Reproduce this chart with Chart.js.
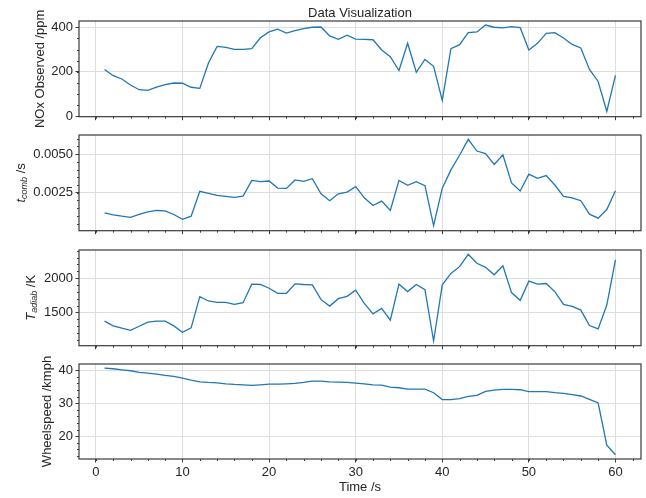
<!DOCTYPE html>
<html>
<head>
<meta charset="utf-8">
<script src="https://cdn.jsdelivr.net/npm/chart.js@4.4.1/dist/chart.umd.min.js"></script>
<style>
  body { margin: 0; background: #fff; }
  #wrap { position: relative; width: 646px; height: 498px; overflow: hidden; }
  #wrap canvas { position: absolute; left: 0; }
</style>
</head>
<body>
<div id="wrap"></div>
<script>
// data
const timeS = [1, 2, 3, 4, 5, 6, 7, 8, 9, 10, 11, 12, 13, 14, 15, 16, 17, 18, 19, 20,
  21, 22, 23, 24, 25, 26, 27, 28, 29, 30, 31, 32, 33, 34, 35, 36, 37, 38, 39, 40,
  41, 42, 43, 44, 45, 46, 47, 48, 49, 50, 51, 52, 53, 54, 55, 56, 57, 58, 59, 60];

const noxPpm = [211, 183, 168, 141, 120, 117, 132, 143, 150, 149,
  131, 126, 240, 314, 310, 301, 301, 304, 353, 379,
  391, 374, 385, 394, 400, 401, 361, 346, 364, 347,
  346, 344, 298, 268, 206, 328, 198, 256, 225, 72,
  304, 322, 376, 379, 410, 400, 397, 403, 398, 298,
  328, 373, 376, 352, 323, 307, 211, 157, 23, 184];

const tComb = [0.00120, 0.00107, 0.00098, 0.00091, 0.00109, 0.00126, 0.00135, 0.00133, 0.00109, 0.00078,
  0.00098, 0.00259, 0.00246, 0.00233, 0.00226, 0.00220, 0.00228, 0.00330, 0.00322, 0.00326,
  0.00280, 0.00278, 0.00333, 0.00324, 0.00341, 0.00243, 0.00198, 0.00243, 0.00254, 0.00289,
  0.00217, 0.00167, 0.00196, 0.00135, 0.00330, 0.00298, 0.00322, 0.00296, 0.00037, 0.00280,
  0.00398, 0.00493, 0.00596, 0.00520, 0.00504, 0.00433, 0.00496, 0.00313, 0.00261, 0.00370,
  0.00343, 0.00361, 0.00300, 0.00226, 0.00217, 0.00198, 0.00111, 0.00085, 0.00141, 0.00263];

const tAdiab = [1373, 1304, 1270, 1240, 1299, 1358, 1373, 1373, 1304, 1211,
  1275, 1730, 1667, 1647, 1647, 1618, 1642, 1912, 1907, 1853,
  1779, 1779, 1917, 1907, 1902, 1686, 1593, 1701, 1735, 1824,
  1632, 1480, 1559, 1387, 1912, 1804, 1907, 1833, 1083, 1902,
  2069, 2167, 2348, 2216, 2157, 2049, 2181, 1789, 1676, 1956,
  1912, 1922, 1804, 1618, 1588, 1534, 1309, 1260, 1608, 2265];

const wheelspeed = [40.66, 40.46, 40.15, 39.85, 39.34, 39.14, 38.83, 38.43, 38.12, 37.6,
  37.0, 36.5, 36.3, 36.2, 35.9, 35.7, 35.6, 35.4, 35.6, 35.8,
  35.8, 35.9, 36.0, 36.3, 36.7, 36.7, 36.5, 36.4, 36.3, 36.1,
  35.9, 35.6, 35.5, 34.9, 34.7, 34.3, 34.3, 34.3, 33.2, 31.1,
  31.1, 31.4, 32.1, 32.4, 33.6, 34.0, 34.2, 34.2, 34.1, 33.5,
  33.5, 33.5, 33.2, 33.0, 32.6, 32.2, 31.2, 30.1, 17.3, 14.4];

// tick positions
const xTicks = [0, 10, 20, 30, 40, 50, 60];
const noxTicks = [0, 200, 400];
const tCombTicks = [0.0025, 0.0050];
const tAdiabTicks = [1500, 2000];
const speedTicks = [20, 30, 40];

const titleText = 'Data Visualization';
const xLabel = 'Time /s';

const FONT = '"Liberation Sans", Arial, sans-serif';
const TEXT = '#262626';
const SPINE = '#3a3a3a';
const GRID = '#dedede';
const LINE = '#1f77b4';

// panel layout: plot top / height in page pixels and axis setup
const panels = [
  { data: noxPpm, ticks: noxTicks, top: 21, h: 95.5, min: -1, max: 428, minor: 50,
    fmt: v => String(v), labelX: 40,
    label: [{ t: 'NOx Observed /ppm', f: '13px ' + FONT, dy: 0 }] },
  { data: tComb, ticks: tCombTicks, top: 135, h: 95.5, min: 0.00004, max: 0.00624, minor: 0.0005,
    fmt: v => v.toFixed(4), labelX: 21,
    label: [{ t: 't', f: 'italic 13px ' + FONT, dy: 0 },
            { t: 'comb', f: 'italic 9px ' + FONT, dy: 3 },
            { t: ' /s', f: '13px ' + FONT, dy: 0 }] },
  { data: tAdiab, ticks: tAdiabTicks, top: 249.5, h: 95.5, min: 1015, max: 2410, minor: 100,
    fmt: v => String(v), labelX: 31,
    label: [{ t: 'T', f: 'italic 13px ' + FONT, dy: 0 },
            { t: 'adiab', f: 'italic 9px ' + FONT, dy: 3 },
            { t: ' /K', f: '13px ' + FONT, dy: 0 }] },
  { data: wheelspeed, ticks: speedTicks, top: 364, h: 94.5, min: 13.1, max: 41.9, minor: 2,
    fmt: v => String(v), labelX: 47.5, bottom: true,
    label: [{ t: 'Wheelspeed /kmph', f: '13px ' + FONT, dy: 0 }] }
];

const wrap = document.getElementById('wrap');

function drawRotated(ctx, parts, cx, cy) {
  ctx.save();
  let total = 0;
  parts.forEach(p => { ctx.font = p.f; total += ctx.measureText(p.t).width; });
  ctx.translate(cx, cy);
  ctx.rotate(-Math.PI / 2);
  ctx.fillStyle = TEXT;
  ctx.textBaseline = 'middle';
  ctx.textAlign = 'left';
  let x = -total / 2;
  parts.forEach(p => {
    ctx.font = p.f;
    ctx.fillText(p.t, x, p.dy);
    x += ctx.measureText(p.t).width;
  });
  ctx.restore();
}

function minorTicks(ctx, scale, step, horizontal, area) {
  const first = Math.ceil(scale.min / step);
  const last = Math.floor(scale.max / step);
  ctx.beginPath();
  for (let k = first; k <= last; k++) {
    const p = Math.round(scale.getPixelForValue(k * step)) + 0.5;
    if (horizontal) {
      ctx.moveTo(p, area.bottom);
      ctx.lineTo(p, area.bottom + 2);
    } else {
      ctx.moveTo(area.left, p);
      ctx.lineTo(area.left - 2, p);
    }
  }
  ctx.stroke();
}

panels.forEach((pn, i) => {
  const padTop = i === 0 ? pn.top : 12;
  const xH = pn.bottom ? 40 : 10;
  const canvasTop = pn.top - padTop;
  const height = Math.round(padTop + pn.h + xH);
  const canvas = document.createElement('canvas');
  canvas.style.top = canvasTop + 'px';
  canvas.width = 646;
  canvas.height = height;
  canvas.style.width = '646px';
  canvas.style.height = height + 'px';
  wrap.appendChild(canvas);

  const decor = {
    id: 'decor' + i,
    afterDraw(chart) {
      const ctx = chart.ctx;
      const a = chart.chartArea;
      ctx.save();
      ctx.strokeStyle = SPINE;
      ctx.lineWidth = 1;
      minorTicks(ctx, chart.scales.x, 2, true, a);
      minorTicks(ctx, chart.scales.y, pn.minor, false, a);
      ctx.lineWidth = 1.2;
      ctx.strokeRect(a.left, a.top, a.right - a.left, a.bottom - a.top);
      ctx.restore();
      drawRotated(ctx, pn.label, pn.labelX, (a.top + a.bottom) / 2);
      ctx.save();
      ctx.fillStyle = TEXT;
      ctx.textAlign = 'center';
      ctx.font = '13px ' + FONT;
      ctx.textBaseline = 'alphabetic';
      if (i === 0) {
        ctx.fillText(titleText, (a.left + a.right) / 2, 16.5);
      }
      if (pn.bottom) {
        ctx.fillText(xLabel, (a.left + a.right) / 2, a.bottom + 31.5);
      }
      ctx.restore();
    }
  };

  new Chart(canvas, {
    type: 'line',
    data: {
      datasets: [{
        data: timeS.map((t, k) => ({ x: t, y: pn.data[k] })),
        borderColor: LINE,
        borderWidth: 1.3,
        pointRadius: 0,
        tension: 0,
        fill: false
      }]
    },
    options: {
      responsive: false,
      animation: false,
      layout: { padding: { top: padTop, right: 5, left: 0, bottom: 0 } },
      plugins: { legend: { display: false }, tooltip: { enabled: false } },
      scales: {
        x: {
          type: 'linear',
          min: -1.95,
          max: 62.95,
          afterFit: s => { s.height = xH; },
          afterBuildTicks: s => { s.ticks = xTicks.map(v => ({ value: v })); },
          border: { display: false },
          grid: { color: GRID, lineWidth: 1, tickColor: SPINE, tickLength: 3.5, tickWidth: 1 },
          ticks: {
            display: !!pn.bottom,
            autoSkip: false,
            maxRotation: 0,
            padding: 2,
            color: TEXT,
            font: { family: FONT, size: 13 },
            callback: v => String(v)
          }
        },
        y: {
          min: pn.min,
          max: pn.max,
          afterFit: s => { s.width = 79; },
          afterBuildTicks: s => { s.ticks = pn.ticks.map(v => ({ value: v })); },
          border: { display: false },
          grid: { color: GRID, lineWidth: 1, tickColor: SPINE, tickLength: 3.5, tickWidth: 1 },
          ticks: {
            autoSkip: false,
            padding: 2.5,
            color: TEXT,
            font: { family: FONT, size: 13 },
            callback: v => pn.fmt(v)
          }
        }
      }
    },
    plugins: [decor]
  });
});
</script>
</body>
</html>
